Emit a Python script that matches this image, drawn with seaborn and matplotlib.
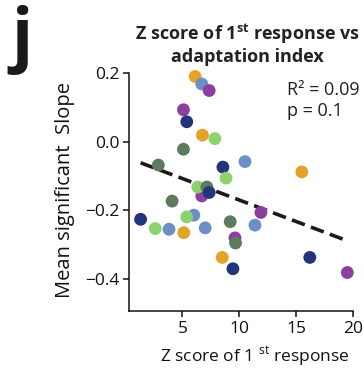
import matplotlib
matplotlib.use("Agg")
import matplotlib.pyplot as plt
import seaborn as sns
import pandas as pd

# data (x = z score of 1st response, y = mean significant slope)
z_score = [6.12, 6.7, 7.35, 5.09, 5.38, 6.76, 7.85, 5.09, 2.88, 10.5,
           8.56, 15.5, 8.83, 6.7, 6.35, 7.15, 7.35, 4.09, 1.32, 2.61,
           3.82, 5.12, 6.0, 5.38, 7.0, 9.2, 9.62, 9.67, 8.5, 9.44,
           11.38, 11.9, 16.2, 19.5]
slope = [0.19, 0.168, 0.149, 0.093, 0.058, 0.019, 0.009, -0.022, -0.068, -0.058,
         -0.074, -0.088, -0.106, -0.158, -0.132, -0.132, -0.148, -0.173, -0.226, -0.253,
         -0.255, -0.265, -0.214, -0.219, -0.251, -0.233, -0.28, -0.295, -0.337, -0.37,
         -0.243, -0.206, -0.337, -0.381]
group = ["A", "B", "C", "C", "D", "A", "E", "F", "F", "B",
         "D", "A", "E", "C", "E", "F", "D", "F", "D", "E",
         "B", "A", "B", "E", "B", "F", "C", "F", "A", "D",
         "B", "C", "D", "C"]
palette = {"A": "#E3A328", "B": "#6C8FC8", "C": "#8B3F9E",
           "D": "#23357A", "E": "#8ED16F", "F": "#5E7A5F"}

df = pd.DataFrame({"z": z_score, "slope": slope, "group": group})

sns.set_theme(style="ticks")
plt.rcParams["font.family"] = ["Open Sans", "DejaVu Sans"]
plt.rcParams["mathtext.fontset"] = "custom"
plt.rcParams["mathtext.rm"] = "Open Sans"
plt.rcParams["mathtext.bf"] = "Open Sans:bold"

W, H = 364, 368
fig = plt.figure(figsize=(W / 100, H / 100), dpi=100)
# axes box in pixels: left 129, right 353, top 73 (y=0.2), bottom 311
ax = fig.add_axes([129 / W, 1 - 311 / H, (353 - 129) / W, (311 - 73) / H])

sns.regplot(data=df, x="z", y="slope", scatter=False, ci=None, ax=ax,
            line_kws=dict(color="#1a1a1a", lw=2.6, ls=(0, (3.8, 1.8))))
sns.scatterplot(data=df, x="z", y="slope", hue="group", palette=palette,
                s=85, linewidth=0, alpha=1, legend=False, ax=ax,
                clip_on=False, zorder=3)

ax.set_xlim(0.3, 20)
ax.set_ylim(-0.493, 0.2)
ax.set_xticks([5, 10, 15, 20])
ax.set_yticks([0.2, 0.0, -0.2, -0.4])
ax.set_yticklabels(["0.2", "0.0", "\u22120.2", "\u22120.4"])
ax.tick_params(labelsize=12.5, width=1.1, length=4, color="#111111",
               labelcolor="#111111", pad=3)
for s in ["left", "bottom"]:
    ax.spines[s].set_linewidth(1.1)
    ax.spines[s].set_color("#111111")
sns.despine(ax=ax)

ax.set_xlabel(r"Z score of 1 $^{\mathrm{st}}$ response", fontsize=12.5, color="#111111")
ax.xaxis.set_label_coords(0.5625, -0.14)
ax.set_ylabel("Mean significant  Slope", fontsize=14.5, color="#111111")
ax.yaxis.set_label_coords(-0.24, 0.51)

ax.set_title("Z score of 1$^{\\mathbf{st}}$ response vs\nadaptation index",
             fontsize=13, fontweight="bold", color="#222222",
             linespacing=1.1, x=0.53, pad=8)

ax.text(0.705, 0.965, "R\u00b2 = 0.09\np = 0.1", transform=ax.transAxes,
        fontsize=13, color="#222222", va="top", ha="left", linespacing=1.2)

fig.text(22 / W, 1 - 5 / H, "j", fontsize=50, fontweight="bold",
         color="#1a1a1a", ha="center", va="top")

fig.savefig("out.png", dpi=100)
